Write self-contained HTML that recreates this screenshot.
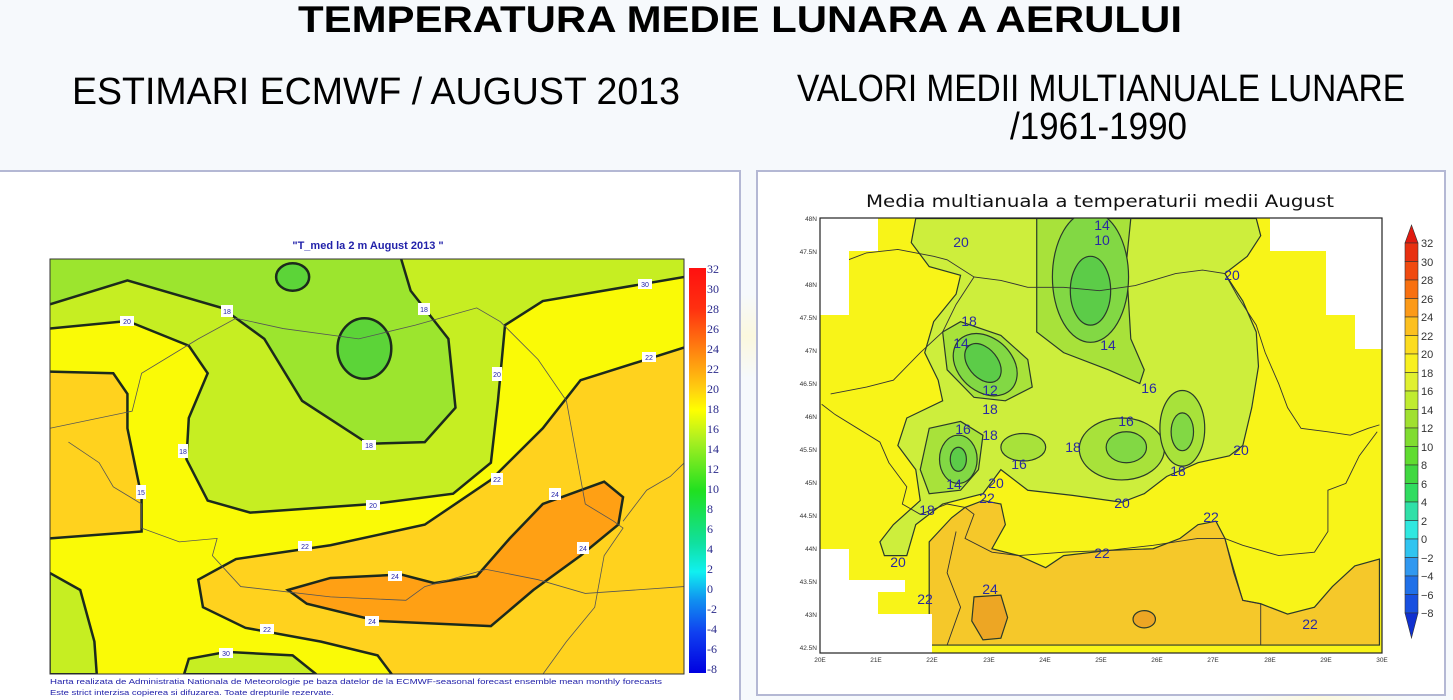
<!DOCTYPE html>
<html><head><meta charset="utf-8"><style>
html,body{margin:0;padding:0;background:#f6f9fc;}
svg{display:block;}
</style></head><body>
<svg width="1453" height="700" viewBox="0 0 1453 700" xmlns="http://www.w3.org/2000/svg">
<defs>
<radialGradient id="glow" cx="0.5" cy="0.9" r="0.6">
<stop offset="0" stop-color="#f6f9fc"/><stop offset="0.6" stop-color="#f6f9fc"/><stop offset="0.7" stop-color="#fbf8de"/><stop offset="0.8" stop-color="#f6f9fc"/>
</radialGradient>
<linearGradient id="lcb" x1="0" y1="0" x2="0" y2="1">
<stop offset="0" stop-color="#ff1010"/><stop offset="0.1" stop-color="#ff3010"/><stop offset="0.2" stop-color="#ff8010"/><stop offset="0.3" stop-color="#ffd010"/><stop offset="0.35" stop-color="#ffff00"/><stop offset="0.42" stop-color="#b0f020"/><stop offset="0.55" stop-color="#20e020"/><stop offset="0.68" stop-color="#10e0a0"/><stop offset="0.75" stop-color="#10f0f0"/><stop offset="0.82" stop-color="#1090f0"/><stop offset="0.9" stop-color="#1040f0"/><stop offset="1" stop-color="#0000e0"/>
</linearGradient>
<clipPath id="lclip"><rect x="50" y="259" width="634" height="415"/></clipPath>
<clipPath id="rclip"><rect x="820" y="218" width="562" height="435"/></clipPath>
</defs>
<rect width="1453" height="700" fill="url(#glow)"/>

<!-- titles -->
<text x="740" y="32" font-family="Liberation Sans, sans-serif" font-weight="bold" font-size="37" text-anchor="middle" textLength="884" lengthAdjust="spacingAndGlyphs" fill="#000">TEMPERATURA MEDIE LUNARA A AERULUI</text>
<text x="72" y="104" font-family="Liberation Sans, sans-serif" font-size="38" textLength="608" lengthAdjust="spacingAndGlyphs" fill="#000">ESTIMARI ECMWF / AUGUST 2013</text>
<text x="797" y="101" font-family="Liberation Sans, sans-serif" font-size="38" textLength="608" lengthAdjust="spacingAndGlyphs" fill="#000">VALORI MEDII MULTIANUALE LUNARE</text>
<text x="1010" y="139" font-family="Liberation Sans, sans-serif" font-size="38" textLength="177" lengthAdjust="spacingAndGlyphs" fill="#000">/1961-1990</text>

<!-- panels -->
<rect x="-2" y="171" width="742" height="540" fill="#fff" stroke="#b4b8d4" stroke-width="2"/>
<rect x="757" y="171" width="688" height="524" fill="#fff" stroke="#b4b8d4" stroke-width="2"/>

<!-- LEFT MAP -->
<text x="368" y="249" font-family="Liberation Sans, sans-serif" font-weight="bold" font-size="11" fill="#2222aa" text-anchor="middle">"T_med la 2 m August 2013 "</text>
<g clip-path="url(#lclip)">
<rect x="50" y="259" width="634" height="415" fill="#fafa06"/>
<g transform="translate(0,160) scale(0.472,0.344)">
<path d="M105,288 L1450,288 L1450,340 L1150,410 L1070,480 L1055,700 L1040,880 L960,970 L790,1000 L530,1025 L440,990 L395,870 L400,750 L440,620 L400,540 L270,468 L105,490Z" fill="#c6ee22"/>
<path d="M105,288 L850,288 L870,380 L950,520 L965,720 L900,820 L780,825 L640,700 L560,520 L470,430 L270,350 L105,420Z" fill="#9ce52e"/>
<ellipse cx="620" cy="340" rx="35" ry="40" fill="#5cd438" stroke="#1c2a1c" stroke-width="2.5" vector-effect="non-scaling-stroke"/>
<ellipse cx="772" cy="548" rx="57" ry="88" fill="#5cd438" stroke="#1c2a1c" stroke-width="2.5" vector-effect="non-scaling-stroke"/>
<path d="M105,615 L240,620 L270,680 L270,780 L300,980 L300,1080 L105,1100Z" fill="#ffd21e"/>
<path d="M1450,545 L1230,640 L1150,780 L1040,930 L900,1060 L700,1120 L500,1160 L420,1220 L430,1300 L520,1360 L680,1400 L800,1440 L830,1495 L1450,1495Z" fill="#ffd21e"/>
<path d="M610,1250 L700,1215 L850,1205 L920,1230 L1010,1210 L1080,1100 L1150,1000 L1280,935 L1320,980 L1310,1060 L1230,1150 L1130,1250 L1040,1355 L800,1340 L650,1290Z" fill="#ffa014" stroke="#1c2a1c" stroke-width="2.5" vector-effect="non-scaling-stroke"/>
<path d="M105,1200 L170,1250 L200,1400 L205,1495 L105,1495Z" fill="#c6ee22" stroke="#1c2a1c" stroke-width="2.5" vector-effect="non-scaling-stroke"/>
<path d="M390,1495 L400,1450 L480,1430 L620,1440 L670,1495Z" fill="#c6ee22" stroke="#1c2a1c" stroke-width="2.5" vector-effect="non-scaling-stroke"/>
<g fill="none" stroke="#1c2a1c" stroke-width="2.5" vector-effect="non-scaling-stroke">
<path vector-effect="non-scaling-stroke" d="M1450,340 L1150,410 L1070,480 L1055,700 L1040,880 L960,970 L790,1000 L530,1025 L440,990 L395,870 L400,750 L440,620 L400,540 L270,468 L105,490"/>
<path vector-effect="non-scaling-stroke" d="M850,288 L870,380 L950,520 L965,720 L900,820 L780,825 L640,700 L560,520 L470,430 L270,350 L105,420"/>
<path vector-effect="non-scaling-stroke" d="M105,615 L240,620 L270,680 L270,780 L300,980 L300,1080 L105,1100"/>
<path vector-effect="non-scaling-stroke" d="M1450,545 L1230,640 L1150,780 L1040,930 L900,1060 L700,1120 L500,1160 L420,1220 L430,1300 L520,1360 L680,1400 L800,1440 L830,1495"/>
</g>
<g fill="none" stroke="#555" stroke-width="0.8" vector-effect="non-scaling-stroke">
<path vector-effect="non-scaling-stroke" d="M105,780 L280,730 L300,620 L420,520 L500,460 L600,490 L760,520 L880,480 L1010,430 L1060,470 L1140,580 L1200,700 L1220,850 L1240,1000 L1300,1050 L1320,1070 L1280,1150 L1260,1300 L1200,1400 L1150,1495"/>
<path vector-effect="non-scaling-stroke" d="M145,820 L210,880 L240,950 L300,1000 L300,1070 L380,1110 L460,1100 L450,1150 L510,1240 L700,1270 L860,1280 L900,1240 L1030,1190 L1140,1220 L1240,1260 L1450,1240"/>
<path vector-effect="non-scaling-stroke" d="M1320,1050 L1370,960 L1420,920 L1450,880"/>
</g>
</g>
<g font-family="Liberation Sans, sans-serif" font-size="7" fill="#2222aa" text-anchor="middle">
<rect x="120" y="316" width="14" height="10" fill="#fff"/><text x="127" y="324">20</text>
<rect x="221" y="305" width="12" height="12" fill="#fff"/><text x="227" y="314">18</text>
<rect x="418" y="303" width="12" height="12" fill="#fff"/><text x="424" y="312">18</text>
<rect x="638" y="279" width="14" height="10" fill="#fff"/><text x="645" y="287">30</text>
<rect x="492" y="367" width="10" height="14" fill="#fff"/><text x="497" y="377">20</text>
<rect x="642" y="352" width="14" height="10" fill="#fff"/><text x="649" y="360">22</text>
<rect x="362" y="440" width="14" height="10" fill="#fff"/><text x="369" y="448">18</text>
<rect x="178" y="444" width="10" height="14" fill="#fff"/><text x="183" y="454">18</text>
<rect x="136" y="485" width="10" height="14" fill="#fff"/><text x="141" y="495">15</text>
<rect x="366" y="500" width="14" height="10" fill="#fff"/><text x="373" y="508">20</text>
<rect x="491" y="473" width="12" height="12" fill="#fff"/><text x="497" y="482">22</text>
<rect x="549" y="488" width="12" height="12" fill="#fff"/><text x="555" y="497">24</text>
<rect x="298" y="541" width="14" height="10" fill="#fff"/><text x="305" y="549">22</text>
<rect x="577" y="542" width="12" height="12" fill="#fff"/><text x="583" y="551">24</text>
<rect x="388" y="571" width="14" height="10" fill="#fff"/><text x="395" y="579">24</text>
<rect x="365" y="616" width="14" height="10" fill="#fff"/><text x="372" y="624">24</text>
<rect x="260" y="624" width="14" height="10" fill="#fff"/><text x="267" y="632">22</text>
<rect x="219" y="648" width="14" height="10" fill="#fff"/><text x="226" y="656">30</text>
</g>
</g>
<rect x="50" y="259" width="634" height="415" fill="none" stroke="#333" stroke-width="1"/>
<rect x="689" y="268" width="17" height="405" fill="url(#lcb)"/>
<g font-family="Liberation Serif, serif" font-size="12" fill="#2a2a8a">
<text x="707" y="273">32</text><text x="707" y="293">30</text><text x="707" y="313">28</text><text x="707" y="333">26</text><text x="707" y="353">24</text><text x="707" y="373">22</text><text x="707" y="393">20</text><text x="707" y="413">18</text><text x="707" y="433">16</text><text x="707" y="453">14</text><text x="707" y="473">12</text><text x="707" y="493">10</text><text x="707" y="513">8</text><text x="707" y="533">6</text><text x="707" y="553">4</text><text x="707" y="573">2</text><text x="707" y="593">0</text><text x="707" y="613">-2</text><text x="707" y="633">-4</text><text x="707" y="653">-6</text><text x="707" y="673">-8</text>
</g>
<text x="50" y="684" font-family="Liberation Sans, sans-serif" font-size="7.5" fill="#2222aa" textLength="612" lengthAdjust="spacingAndGlyphs">Harta realizata de Administratia Nationala de Meteorologie pe baza datelor de la ECMWF-seasonal forecast ensemble mean monthly forecasts</text>
<text x="50" y="695" font-family="Liberation Sans, sans-serif" font-size="7.5" fill="#2222aa" textLength="284" lengthAdjust="spacingAndGlyphs">Este strict interzisa copierea si difuzarea. Toate drepturile rezervate.</text>

<!-- RIGHT MAP -->
<text x="1100" y="207" font-family="DejaVu Sans, sans-serif" font-size="17" text-anchor="middle" textLength="468" lengthAdjust="spacingAndGlyphs" fill="#111">Media multianuala a temperaturii medii August</text>
<g clip-path="url(#rclip)">
<rect x="820" y="218" width="562" height="435" fill="#f8f418"/>
<g transform="translate(750,160) scale(0.448,0.344)">
<path d="M400,1410 L400,1110 L450,1040 L480,1010 L520,990 L560,1000 L570,1060 L540,1130 L600,1150 L660,1185 L700,1150 L800,1135 L900,1130 L960,1100 L1000,1060 L1040,1050 L1060,1100 L1080,1200 L1100,1280 L1140,1290 L1200,1320 L1260,1300 L1300,1240 L1350,1180 L1405,1160 L1405,1410Z" fill="#f5c82a" stroke="#2a3a2a" stroke-width="1.2" vector-effect="non-scaling-stroke"/>
<path d="M500,1270 L560,1265 L575,1330 L560,1390 L520,1395 L495,1340Z" fill="#eda624" stroke="#2a3a2a" stroke-width="1.2" vector-effect="non-scaling-stroke"/>
<ellipse cx="880" cy="1335" rx="25" ry="25" fill="#eda624" stroke="#2a3a2a" stroke-width="1.2" vector-effect="non-scaling-stroke"/>
<path d="M370,170 L360,240 L400,310 L470,335 L460,390 L410,470 L390,560 L420,640 L430,700 L350,750 L330,830 L370,900 L380,990 L320,1060 L290,1110 L300,1150 L350,1150 L370,1060 L430,1000 L520,970 L560,900 L620,960 L720,975 L830,995 L880,970 L930,920 L1000,880 L1070,860 L1100,830 L1120,720 L1135,600 L1130,500 L1100,410 L1060,330 L1110,280 L1140,220 L1130,170Z" fill="#cdee3c" stroke="#2a3a2a" stroke-width="1.2" vector-effect="non-scaling-stroke"/>
<g fill="#a8e23a" stroke="#2a3a2a" stroke-width="1.2">
<path vector-effect="non-scaling-stroke" d="M640,170 L640,500 L700,560 L800,610 L870,650 L880,610 L850,520 L840,300 L850,170Z"/>
<path vector-effect="non-scaling-stroke" d="M430,500 L470,470 L560,510 L620,580 L630,660 L570,700 L500,690 L440,610Z"/>
<path vector-effect="non-scaling-stroke" d="M400,780 L470,760 L520,800 L510,900 L470,960 L400,970 L380,900Z"/>
<ellipse vector-effect="non-scaling-stroke" cx="610" cy="835" rx="50" ry="40"/>
<ellipse vector-effect="non-scaling-stroke" cx="830" cy="840" rx="95" ry="90"/>
<ellipse vector-effect="non-scaling-stroke" cx="965" cy="780" rx="50" ry="110"/>
</g>
<g fill="#82d844" stroke="#2a3a2a" stroke-width="1.2">
<ellipse vector-effect="non-scaling-stroke" cx="760" cy="340" rx="85" ry="190"/>
<ellipse vector-effect="non-scaling-stroke" cx="525" cy="595" rx="65" ry="95" transform="rotate(-25 525 595)"/>
<ellipse vector-effect="non-scaling-stroke" cx="465" cy="870" rx="42" ry="70"/>
<ellipse vector-effect="non-scaling-stroke" cx="840" cy="835" rx="45" ry="45"/>
<ellipse vector-effect="non-scaling-stroke" cx="965" cy="790" rx="25" ry="55"/>
</g>
<g fill="#5ccc48" stroke="#2a3a2a" stroke-width="1.2">
<ellipse vector-effect="non-scaling-stroke" cx="760" cy="380" rx="45" ry="100"/>
<ellipse vector-effect="non-scaling-stroke" cx="520" cy="590" rx="35" ry="60" transform="rotate(-25 520 590)"/>
<ellipse vector-effect="non-scaling-stroke" cx="465" cy="870" rx="18" ry="35"/>
</g>
<g fill="none" stroke="#333" stroke-width="0.9">
<path vector-effect="non-scaling-stroke" d="M160,320 L200,300 L260,270 L330,260 L410,280 L440,290 L500,340 L560,350 L620,370 L700,370 L780,380 L860,365 L950,330 L1010,320 L1060,330 L1090,400 L1130,480 L1150,560 L1180,650 L1200,720 L1230,780 L1290,790 L1340,800 L1380,780 L1405,770"/>
<path vector-effect="non-scaling-stroke" d="M160,710 L190,740 L240,780 L290,820 L310,880 L350,950 L340,1000 L380,1030 L440,1000 L480,1010 L500,1030 L480,1100 L540,1140 L600,1150 L700,1140 L800,1135 L900,1120 L1000,1100 L1060,1100 L1100,1120 L1180,1150 L1260,1140 L1290,1080 L1290,960 L1330,940 L1360,860 L1400,790"/>
<path vector-effect="non-scaling-stroke" d="M180,680 L260,660 L320,640 L380,560 L430,500 L460,420 L500,340"/>
<path vector-effect="non-scaling-stroke" d="M460,1080 L440,1200 L470,1300 L440,1410"/>
<path vector-effect="non-scaling-stroke" d="M1060,1100 L1100,1280 L1140,1290 L1140,1410"/>
</g>
</g>
<g fill="#fff">
<rect x="820" y="218" width="58" height="33"/><rect x="820" y="251" width="29" height="64"/>
<rect x="1270" y="218" width="112" height="33"/><rect x="1326" y="251" width="56" height="64"/><rect x="1355" y="315" width="27" height="34"/>
<rect x="820" y="549" width="29" height="104"/><rect x="849" y="580" width="56" height="12"/><rect x="849" y="592" width="29" height="61"/><rect x="878" y="614" width="54" height="39"/>
</g>
</g>
<rect x="820" y="218" width="562" height="435" fill="none" stroke="#222" stroke-width="1.2"/>
<g font-family="Liberation Sans, sans-serif" font-size="14" fill="#2a2aa0" text-anchor="middle">
<text x="961" y="247">20</text><text x="1232" y="280">20</text>
<text x="1102" y="230">14</text><text x="1102" y="245">10</text>
<text x="969" y="326">18</text><text x="961" y="348">14</text><text x="1108" y="350">14</text>
<text x="1149" y="393">16</text><text x="990" y="395">12</text><text x="990" y="414">18</text>
<text x="963" y="434">16</text><text x="990" y="440">18</text><text x="1126" y="426">16</text>
<text x="1073" y="452">18</text><text x="1241" y="455">20</text><text x="1019" y="469">16</text>
<text x="954" y="489">14</text><text x="996" y="488">20</text><text x="1178" y="476">18</text>
<text x="987" y="503">22</text><text x="1122" y="508">20</text><text x="927" y="515">18</text>
<text x="1211" y="522">22</text><text x="1102" y="558">22</text><text x="898" y="567">20</text>
<text x="990" y="594">24</text><text x="925" y="604">22</text><text x="1310" y="629">22</text>
</g>
<g font-family="Liberation Sans, sans-serif" font-size="6.5" fill="#333" text-anchor="end">
<text x="817" y="221">48N</text><text x="817" y="254">47.5N</text><text x="817" y="287">48N</text><text x="817" y="320">47.5N</text><text x="817" y="353">47N</text><text x="817" y="386">46.5N</text><text x="817" y="419">46N</text><text x="817" y="452">45.5N</text><text x="817" y="485">45N</text><text x="817" y="518">44.5N</text><text x="817" y="551">44N</text><text x="817" y="584">43.5N</text><text x="817" y="617">43N</text><text x="817" y="650">42.5N</text>
</g>
<g font-family="Liberation Sans, sans-serif" font-size="6.5" fill="#333" text-anchor="middle">
<text x="820" y="662">20E</text><text x="876" y="662">21E</text><text x="932" y="662">22E</text><text x="989" y="662">23E</text><text x="1045" y="662">24E</text><text x="1101" y="662">25E</text><text x="1157" y="662">26E</text><text x="1213" y="662">27E</text><text x="1270" y="662">28E</text><text x="1326" y="662">29E</text><text x="1382" y="662">30E</text>
</g>
<g stroke="#333" stroke-width="0.6">
<polygon points="1405,243 1418,243 1411.5,225" fill="#e01a10"/>
<rect x="1405" y="243" width="13" height="18.5" fill="#e83010"/>
<rect x="1405" y="261.5" width="13" height="18.5" fill="#f04a10"/>
<rect x="1405" y="280" width="13" height="18.5" fill="#f87010"/>
<rect x="1405" y="298.5" width="13" height="18.5" fill="#fc9a18"/>
<rect x="1405" y="317" width="13" height="18.5" fill="#fcc020"/>
<rect x="1405" y="335.5" width="13" height="18.5" fill="#fcdc20"/>
<rect x="1405" y="354" width="13" height="18.5" fill="#f8f020"/>
<rect x="1405" y="372.5" width="13" height="18.5" fill="#e0f030"/>
<rect x="1405" y="391" width="13" height="18.5" fill="#c0ec30"/>
<rect x="1405" y="409.5" width="13" height="18.5" fill="#a0e030"/>
<rect x="1405" y="428" width="13" height="18.5" fill="#80dc30"/>
<rect x="1405" y="446.5" width="13" height="18.5" fill="#60dc30"/>
<rect x="1405" y="465" width="13" height="18.5" fill="#40d840"/>
<rect x="1405" y="483.5" width="13" height="18.5" fill="#30dc60"/>
<rect x="1405" y="502" width="13" height="18.5" fill="#30e0a8"/>
<rect x="1405" y="520.5" width="13" height="18.5" fill="#30e8e0"/>
<rect x="1405" y="539" width="13" height="18.5" fill="#30c4f0"/>
<rect x="1405" y="557.5" width="13" height="18.5" fill="#3098f0"/>
<rect x="1405" y="576" width="13" height="18.5" fill="#2070e8"/>
<rect x="1405" y="594.5" width="13" height="18.5" fill="#1850e0"/>
<polygon points="1405,613 1418,613 1411.5,638" fill="#1030d0"/>
</g>
<g font-family="Liberation Sans, sans-serif" font-size="11" fill="#333">
<text x="1421" y="247">32</text><text x="1421" y="266">30</text><text x="1421" y="284">28</text><text x="1421" y="303">26</text><text x="1421" y="321">24</text><text x="1421" y="340">22</text><text x="1421" y="358">20</text><text x="1421" y="377">18</text><text x="1421" y="395">16</text><text x="1421" y="414">14</text><text x="1421" y="432">12</text><text x="1421" y="451">10</text><text x="1421" y="469">8</text><text x="1421" y="488">6</text><text x="1421" y="506">4</text><text x="1421" y="525">2</text><text x="1421" y="543">0</text><text x="1421" y="562">−2</text><text x="1421" y="580">−4</text><text x="1421" y="599">−6</text><text x="1421" y="617">−8</text>
</g>
</svg>
</body></html>
